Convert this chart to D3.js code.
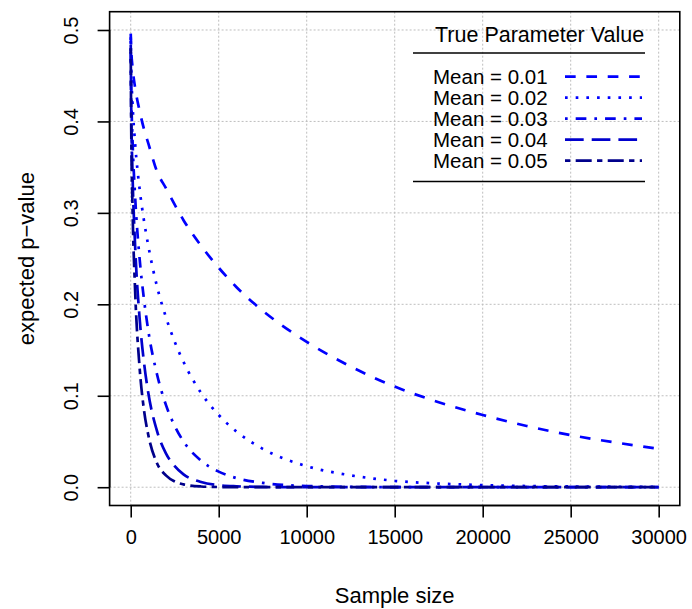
<!DOCTYPE html>
<html>
<head>
<meta charset="utf-8">
<script src="https://cdn.jsdelivr.net/npm/d3@7"></script>
<style>
  body { margin: 0; background: #fff; }
  text { font-family: "Liberation Sans", Arial, Helvetica, sans-serif; fill: #000; }
</style>
</head>
<body>
<svg id="chart" width="692" height="609"></svg>
<script>
// ---- data ----
const sampleSizes = [1, 25, 100, 250, 500, 750, 1000, 1500, 2000, 2500, 3000, 4000, 5000, 6000, 7500, 10000, 12500, 15000, 17500, 20000, 22500, 25000, 27500, 30000];
const mean001 = [0.496, 0.480, 0.460, 0.437, 0.412, 0.392, 0.376, 0.345, 0.327, 0.309, 0.292, 0.264, 0.240, 0.219, 0.193, 0.159, 0.132, 0.110, 0.093, 0.079, 0.067, 0.057, 0.049, 0.042];
const mean002 = [0.492, 0.460, 0.421, 0.376, 0.327, 0.292, 0.264, 0.219, 0.186, 0.159, 0.137, 0.103, 0.079, 0.061, 0.042, 0.023, 0.013, 0.007, 0.004, 0.0023, 0.0013, 0.0008, 0.0005, 0.0003];
const mean003 = [0.488, 0.440, 0.382, 0.318, 0.251, 0.206, 0.171, 0.123, 0.090, 0.067, 0.050, 0.029, 0.017, 0.010, 0.0047, 0.0013, 0.0004, 0.0001, 0, 0, 0, 0, 0, 0];
const mean004 = [0.484, 0.421, 0.345, 0.264, 0.186, 0.137, 0.103, 0.061, 0.037, 0.023, 0.014, 0.0057, 0.0023, 0.001, 0.0003, 0, 0, 0, 0, 0, 0, 0, 0, 0];
const mean005 = [0.480, 0.401, 0.309, 0.215, 0.132, 0.085, 0.057, 0.026, 0.013, 0.0062, 0.0031, 0.0008, 0.0002, 0, 0, 0, 0, 0, 0, 0, 0, 0, 0, 0];
const seriesLabels = ["Mean = 0.01", "Mean = 0.02", "Mean = 0.03", "Mean = 0.04", "Mean = 0.05"];
const seriesValues = [mean001, mean002, mean003, mean004, mean005];
const xTicks = [0, 5000, 10000, 15000, 20000, 25000, 30000];
const yTicks = [0.0, 0.1, 0.2, 0.3, 0.4, 0.5];
const legendTitle = "True Parameter Value";
const xTitle = "Sample size";
const yTitle = "expected p\u2212value";

// ---- styles ----
const colors = ["#0000FF", "#0000FF", "#0000EE", "#0000CD", "#00008B"];
const u = 2.67; // R lty unit (lwd-scaled)
const dashes = [
  [4*u, 4*u],            // dashed
  [1*u, 3*u],            // dotted
  [1*u, 3*u, 4*u, 3*u],  // dotdash
  [7*u, 3*u],            // longdash
  [2*u, 2*u, 6*u, 2*u]   // twodash
].map(a => a.join(","));
const lw = 2.7;

const svg = d3.select("#chart");
const pLeft = 109.6, pRight = 679.8, pTop = 11.7, pBottom = 505.5;

const x = d3.scaleLinear().domain([-1200, 31200]).range([pLeft, pRight]);
const y = d3.scaleLinear().domain([-0.02, 0.52]).range([pBottom, pTop]);

// grid
const grid = svg.append("g");
grid.selectAll("line.v").data(xTicks).join("line")
  .attr("x1", d => x(d)).attr("x2", d => x(d))
  .attr("y1", pTop).attr("y2", pBottom)
  .attr("stroke", "#BEBEBE").attr("stroke-width", 1).attr("stroke-dasharray", "2,2");
grid.selectAll("line.h").data(yTicks).join("line")
  .attr("x1", pLeft).attr("x2", pRight)
  .attr("y1", d => y(d)).attr("y2", d => y(d))
  .attr("stroke", "#BEBEBE").attr("stroke-width", 1).attr("stroke-dasharray", "2,2");

// series
const line = d3.line().x(d => x(d[0])).y(d => y(d[1])).curve(d3.curveMonotoneX);
seriesValues.forEach((vals, i) => {
  svg.append("path")
    .datum(sampleSizes.map((n, j) => [n, vals[j]]))
    .attr("d", line)
    .attr("fill", "none")
    .attr("stroke", colors[i])
    .attr("stroke-width", lw)
    .attr("stroke-dasharray", dashes[i]);
});

// box
svg.append("rect").attr("x", pLeft).attr("y", pTop)
  .attr("width", pRight - pLeft).attr("height", pBottom - pTop)
  .attr("fill", "none").attr("stroke", "#000").attr("stroke-width", 1.6);

// axes
const xAxis = d3.axisBottom(x).tickValues(xTicks).tickSize(12).tickPadding(8).tickFormat(d3.format("d"));
const gx = svg.append("g").attr("transform", `translate(0,${pBottom})`).call(xAxis);
gx.select(".domain").attr("d", `M${x(0)},0H${x(30000)}`).attr("stroke-width", 1.6);
gx.selectAll(".tick line").attr("stroke-width", 1.6);
gx.selectAll(".tick text").attr("font-size", 20).attr("font-family", "Liberation Sans, Arial, sans-serif").attr("fill", "#000").attr("dy", "0.9em");

const yAxis = d3.axisLeft(y).tickValues(yTicks).tickSize(12).tickFormat(d3.format(".1f"));
const gy = svg.append("g").attr("transform", `translate(${pLeft},0)`).call(yAxis);
gy.select(".domain").attr("d", `M0,${y(0)}V${y(0.5)}`).attr("stroke-width", 1.6);
gy.selectAll(".tick line").attr("stroke-width", 1.6);
gy.selectAll(".tick text").remove();
gy.selectAll(".tick").append("text")
  .attr("transform", "translate(-39,0) rotate(-90)")
  .attr("text-anchor", "middle").attr("dy", "0.35em")
  .attr("font-size", 20).attr("font-family", "Liberation Sans, Arial, sans-serif").attr("fill", "#000")
  .text(d => d3.format(".1f")(d));

// axis titles
svg.append("text").attr("x", (pLeft + pRight) / 2).attr("y", 595).attr("dy", "0.35em")
  .attr("text-anchor", "middle").attr("font-size", 22).text(xTitle);
svg.append("text").attr("transform", `translate(26,${y(0.25)}) rotate(-90)`).attr("dy", "0.35em")
  .attr("text-anchor", "middle").attr("font-size", 22).text(yTitle);

// legend
const lg = svg.append("g");
lg.append("text").attr("x", 435).attr("y", 34).attr("dy", "0.35em").attr("font-size", 21.5).text(legendTitle);
lg.append("line").attr("x1", 413).attr("x2", 645).attr("y1", 53).attr("y2", 53).attr("stroke", "#000").attr("stroke-width", 1.4);
lg.append("line").attr("x1", 413).attr("x2", 645).attr("y1", 181.5).attr("y2", 181.5).attr("stroke", "#000").attr("stroke-width", 1.4);
seriesLabels.forEach((lab, i) => {
  const cy = 76.7 + 21 * i;
  lg.append("text").attr("x", 433).attr("y", cy).attr("dy", "0.35em").attr("font-size", 20.5).text(lab);
  lg.append("line").attr("x1", 565).attr("x2", 642).attr("y1", cy).attr("y2", cy)
    .attr("stroke", colors[i]).attr("stroke-width", lw).attr("stroke-dasharray", dashes[i]);
});
</script>
</body>
</html>
